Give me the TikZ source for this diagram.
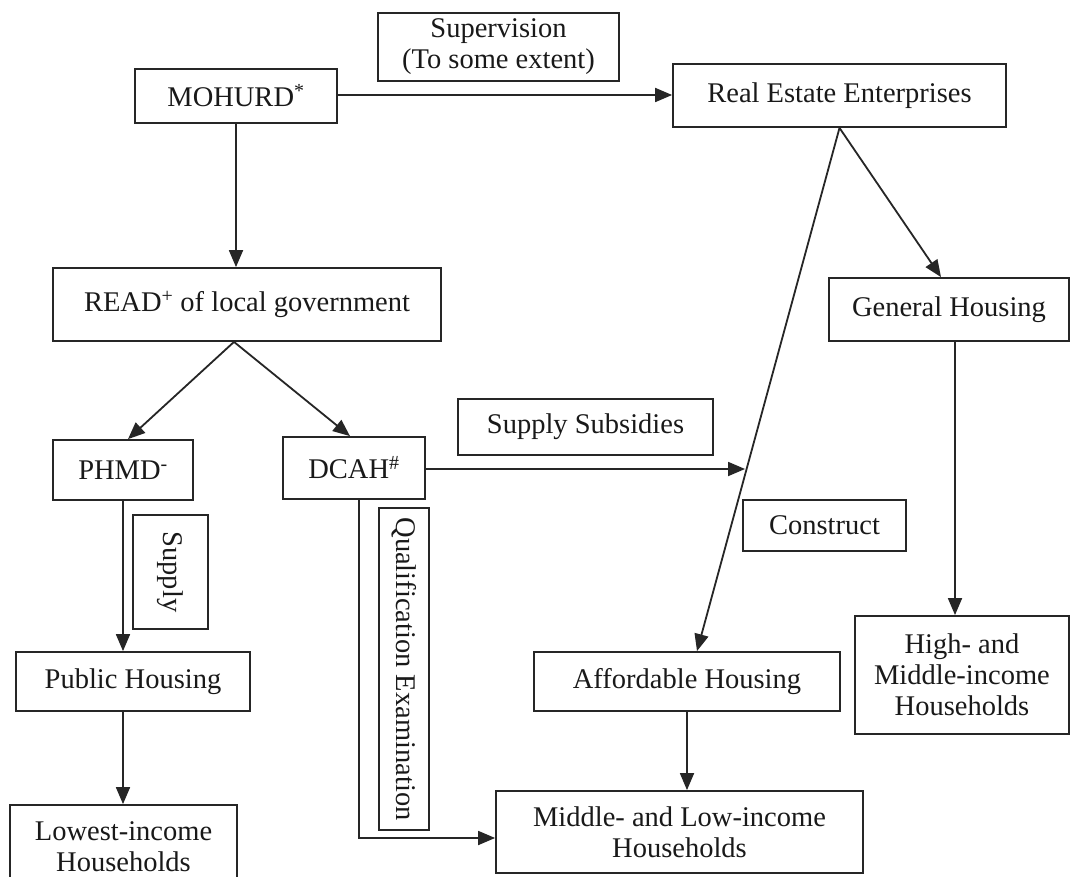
\documentclass[tikz,border=0pt]{standalone}
\usepackage{fontspec}
\setmainfont{Liberation Serif}
\usetikzlibrary{arrows.meta,calc}
\begin{document}
\begin{tikzpicture}[x=1pt,y=-1pt,
  box/.style={draw=black!85,line width=1.8pt,inner sep=0pt,align=center,
    font=\fontsize{28.5}{31}\selectfont,text=black!90},
  arr/.style={line width=1.8pt,draw=black!85,-{Triangle[length=17pt,width=14pt]}},
  ln/.style={line width=1.8pt,draw=black!85}]
\clip (0,0) rectangle (1070,877);
\fill[white] (0,0) rectangle (1070,877);
% nodes
\node[box,minimum width=202pt,minimum height=54pt] (mohurd) at (236,96) {MOHURD\textsuperscript{*}};
\node[box,minimum width=241pt,minimum height=68pt] (sup) at (498.5,47) {Supervision\\(To some extent)};
\node[box,minimum width=333pt,minimum height=63pt] (rea) at (839.5,95.5) {Real Estate Enterprises};
\node[box,minimum width=388pt,minimum height=73pt] (read) at (247,304.5) {READ\textsuperscript{+} of local government};
\node[box,minimum width=240pt,minimum height=63pt] (gh) at (949,309.5) {General Housing};
\node[box,minimum width=140pt,minimum height=60pt] (phmd) at (123,470) {PHMD\textsuperscript{-}};
\node[box,minimum width=142pt,minimum height=62pt] (dcah) at (354,468) {DCAH\textsuperscript{\#}};
\node[box,minimum width=255pt,minimum height=56pt] (subs) at (585.5,427) {Supply Subsidies};
\node[box,rotate=-90,minimum width=114pt,minimum height=75pt] (supply) at (170.5,572) {Supply};
\node[box,rotate=-90,minimum width=322pt,minimum height=50pt] (qual) at (404,669) {Qualification Examination};
\node[box,minimum width=163pt,minimum height=51pt] (constr) at (824.5,525.5) {Construct};
\node[box,minimum width=234pt,minimum height=59pt] (pub) at (133,681.5) {Public Housing};
\node[box,minimum width=306pt,minimum height=59pt] (aff) at (687,681.5) {Affordable Housing};
\node[box,minimum width=214pt,minimum height=118pt] (high) at (962,675) {High- and\\Middle-income\\Households};
\node[box,minimum width=227pt,minimum height=84pt] (low) at (123.5,847) {Lowest-income\\Households};
\node[box,minimum width=367pt,minimum height=82pt] (mid) at (679.5,832) {Middle- and Low-income\\Households};
% helper coordinates
\coordinate (rb) at ([xshift=-13pt]read.south);
\coordinate (subsend) at (745,469);
% connectors
\draw[arr] ([yshift=1pt]mohurd.east) -- ([yshift=1pt]mohurd.east -| rea.west);
\draw[arr] (mohurd.south) -- (mohurd.south |- read.north);
\draw[arr] (rb) -- ([xshift=5pt]phmd.north);
\draw[arr] (rb) -- ([xshift=-4pt]dcah.north);
\draw[arr] (phmd.south) -- (phmd.south |- pub.north);
\draw[arr] ([xshift=-10pt]pub.south) -- ([xshift=-10pt]pub.south |- low.north);
\draw[arr] (dcah.east |- subsend) -- (subsend);
\draw[arr] ([xshift=5pt]dcah.south) |- ([yshift=-6pt]mid.west);
\draw[arr] (rea.south) -- ([xshift=-8pt]gh.north);
\draw[arr] (rea.south) -- ([xshift=10pt]aff.north);
\draw[arr] ([xshift=6pt]gh.south) -- ([xshift=6pt]gh.south |- high.north);
\draw[arr] (aff.south) -- (aff.south |- mid.north);
\end{tikzpicture}
\end{document}
